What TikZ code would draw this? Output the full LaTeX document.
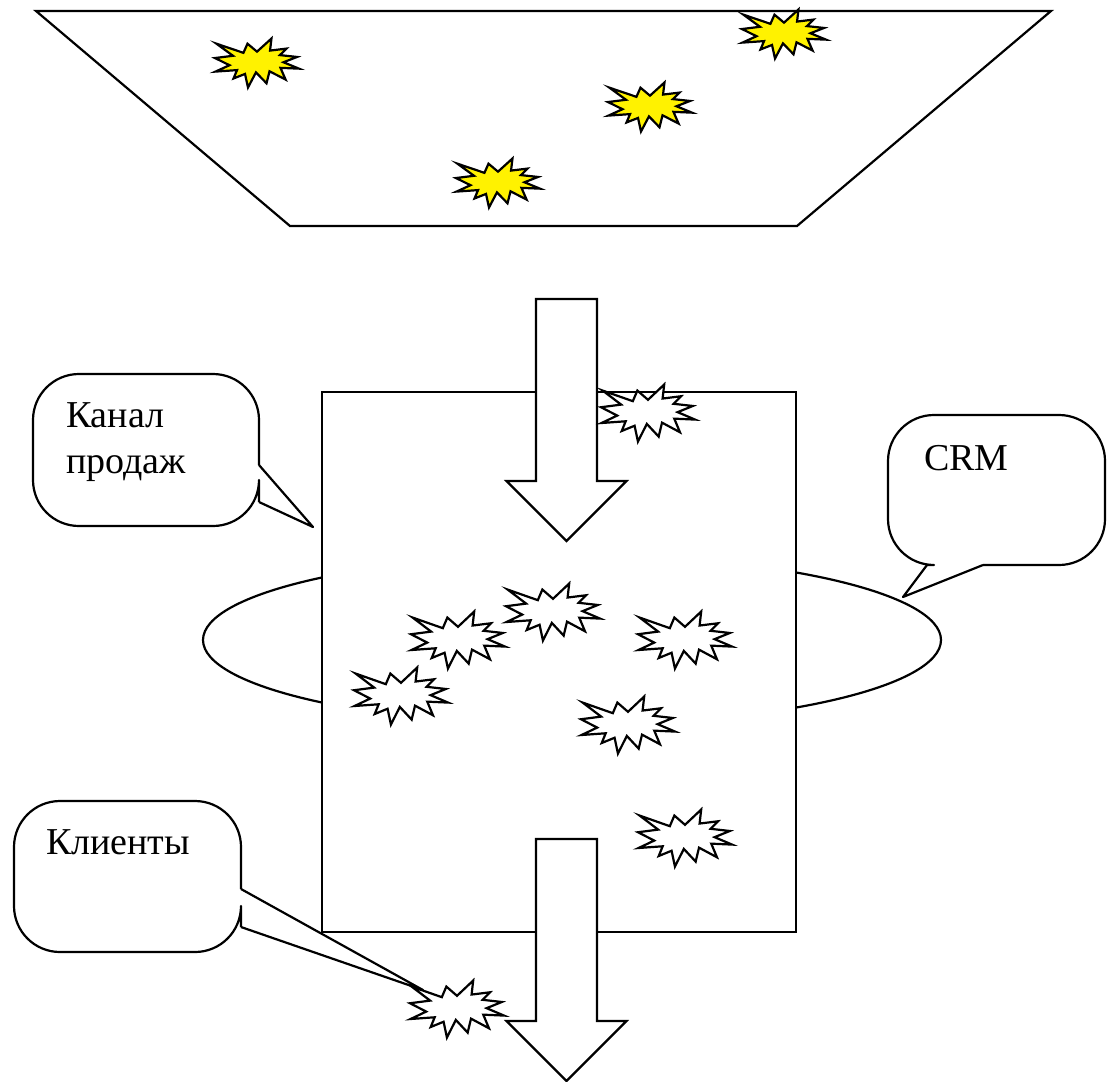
\documentclass[tikz,border=0pt]{standalone}
\usepackage{fontspec}
\setmainfont{Liberation Serif}

\tikzset{
	every picture/.style={x=0.5pt, y=-0.5pt, line width=1.1pt},
	pics/burst/.style n args={3}{code={
		\draw[fill=#1, xscale=#2, yscale=#3] (0,-23.15) -- (17.23,-50) -- (15.53,-25.35) -- (35.09,-29.37)
			-- (27.32,-16.13) -- (47.67,-12.33) -- (31.51,-1.5) -- (50,11.53) -- (27.95,9.92)
			-- (34,33.77) -- (14.91,16.93) -- (11.33,41.38) -- (-1.24,19.14) -- (-10.72,50)
			-- (-14.28,22.35) -- (-27.95,31.56) -- (-23.76,14.52) -- (-49.38,17.53) -- (-32.77,4.51)
			-- (-50,-10.12) -- (-28.58,-14.74) -- (-48.29,-39.38) -- (-16.15,-20.74) -- (-11.33,-39.38) -- cycle;
	}},
	pics/yellowburst/.style={burst={yellow}{0.84}{0.49}},
	pics/whiteburst/.style={burst={white}{0.94}{0.57}},
	pics/bigarrow/.style={code={
		\draw[fill=white] (-30.5,0) -- (30.5,0) -- (30.5,182) -- (60,182) -- (0,242)
			-- (-60,182) -- (-30.5,182) -- cycle;
	}},
	bubble/.style={rounded corners=23, line join=round},
	calltext/.style={font=\fontsize{19}{23}\selectfont, inner sep=0pt, anchor=base west, align=left},
}

\begin{document}
\begin{tikzpicture}
	\useasboundingbox (0,0) rectangle (1107,1081);

	% top tray
	\draw (36,11) -- (1051,11) -- (797,226) -- (290,226) -- cycle;
	\pic at (257,63) {yellowburst};
	\pic at (784,34) {yellowburst};
	\pic at (650,107) {yellowburst};
	\pic at (498,183) {yellowburst};

	% ring and box
	\draw (572,640) ellipse [x radius=184.5pt, y radius=42.5pt];
	\draw[fill=white] (322,392) rectangle (796,932);

	\pic at (566.5,299) {bigarrow};
	\pic at (566.5,839) {bigarrow};

	% callouts
	\draw[bubble] (259,465) -- (259,374) -- (33,374) -- (33,526) -- (259,526) -- (259,502);
	\draw[line join=round] (259,465) -- (313,527) -- (259,502);
	\draw[bubble] (983,565) -- (1105,565) -- (1105,415) -- (888,415) -- (888,565) -- (927,565);
	\draw[line join=round] (927,565) -- (903,597) -- (983,565);
	\draw[bubble] (241,889) -- (241,801) -- (14,801) -- (14,952) -- (241,952) -- (241,927);
	\draw[line join=round] (241,889) -- (423,990) -- (241,927);

	\node[calltext] (kanal) at (65,473) {Канал\\продаж};
	\node[calltext] (crm) at (923,470) {CRM};
	\node[calltext] (klienty) at (45,854) {Клиенты};

	% customers
	\pic at (648,413) {whiteburst};
	\pic at (458,640) {whiteburst};
	\pic at (553,612) {whiteburst};
	\pic at (685,640) {whiteburst};
	\pic at (401,696) {whiteburst};
	\pic at (628,725) {whiteburst};
	\pic at (685,838) {whiteburst};
	\pic at (457,1009) {whiteburst};
\end{tikzpicture}
\end{document}
